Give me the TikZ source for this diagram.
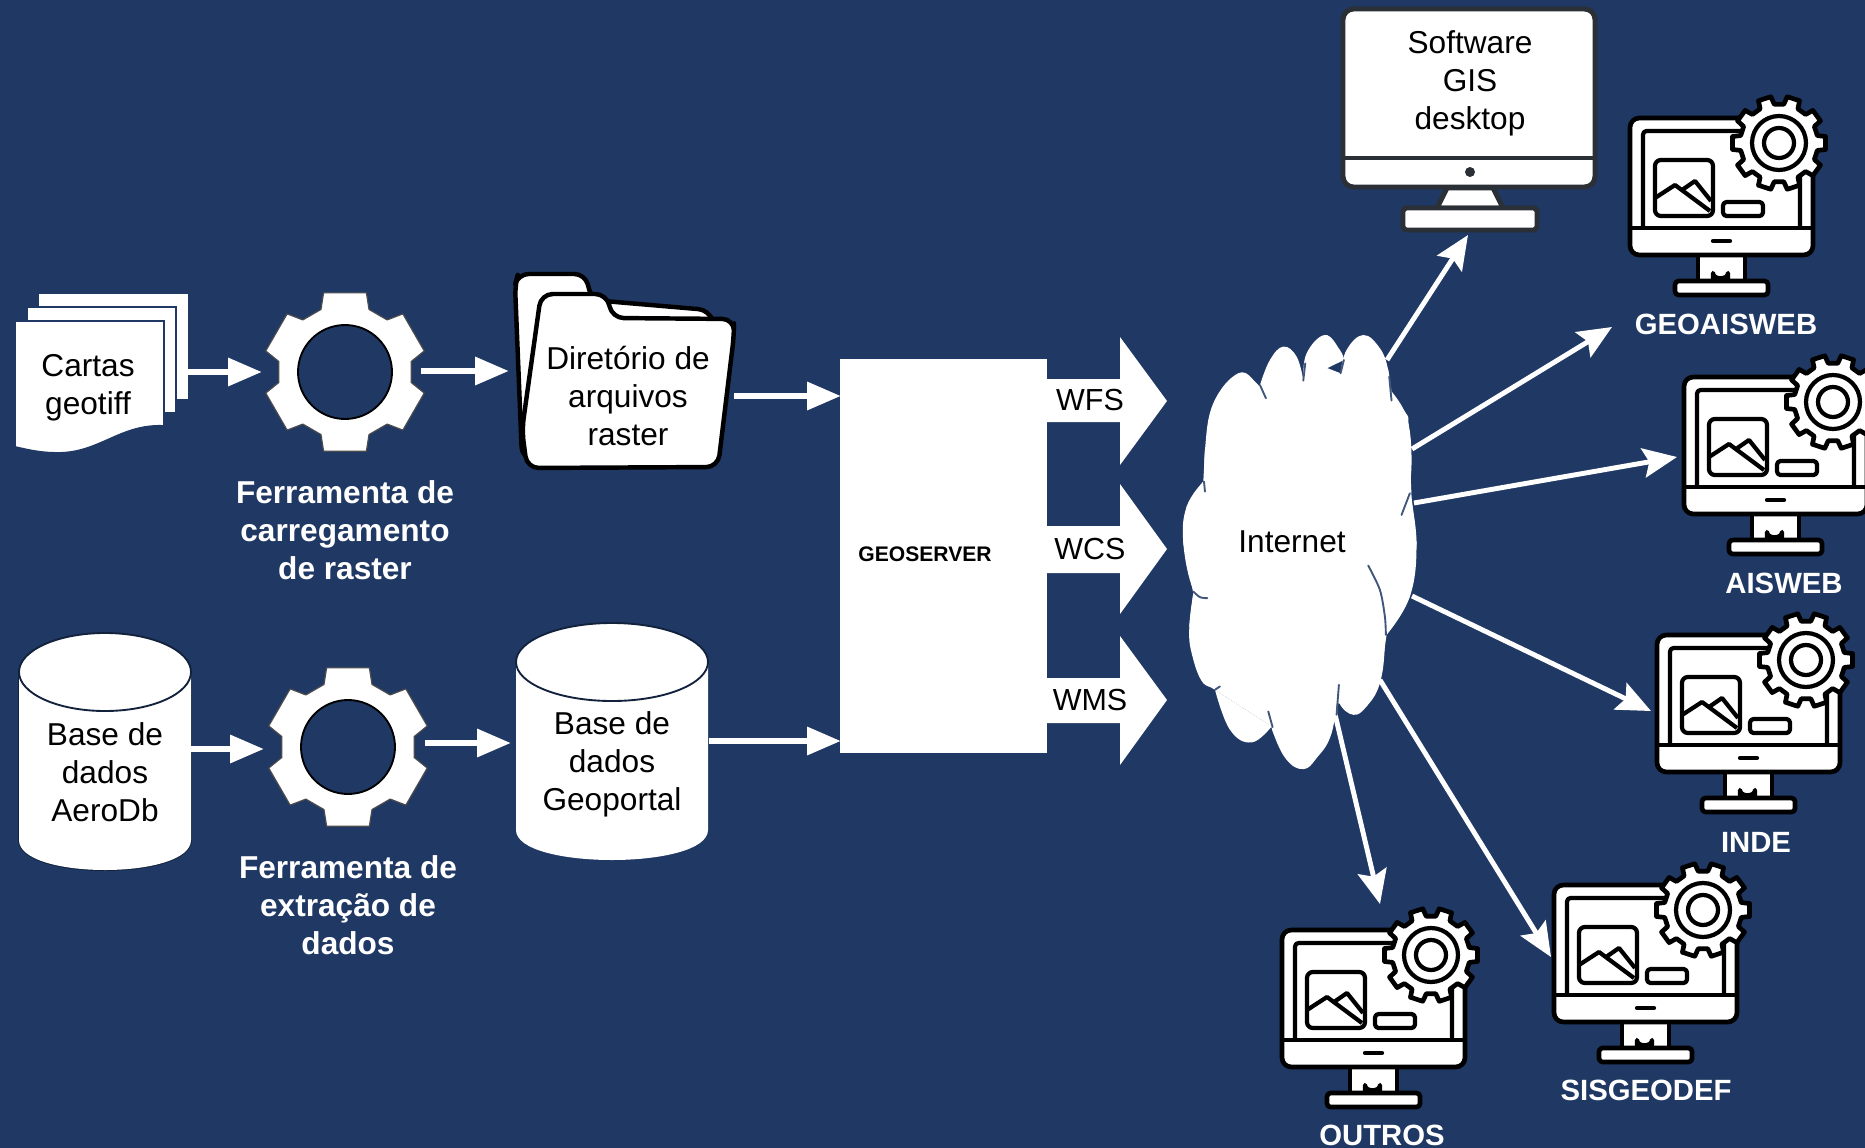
\documentclass[tikz,border=0pt]{standalone}
\usepackage{fontspec}
\setmainfont{Liberation Sans}
\usetikzlibrary{arrows.meta}
\definecolor{bg}{HTML}{203864}
\definecolor{mondark}{HTML}{2B2F36}
\newcommand{\gearshape}[8]{% options cx cy N R r wo wr, offset
  \begin{scope}[shift={(#2,#3)}]
  \path[#1] ({#8-#7}:#6)
    \foreach \i [evaluate=\i as \a using {#8+\i*360/#4}] in {0,...,\numexpr#4-1\relax} {
       -- ({\a-#7}:#6) -- ({\a-#7*0.72}:#5) -- ({\a+#7*0.72}:#5) -- ({\a+#7}:#6)
    } -- cycle;
  \end{scope}
}
\tikzset{
  txt/.style={align=center,text=black,inner sep=0pt,font=\fontsize{27}{32.4}\selectfont},
  lab/.style={align=center,text=white,inner sep=0pt,font=\fontsize{27}{32.4}\selectfont\bfseries},
  caplab/.style={align=center,text=white,inner sep=0pt,font=\fontsize{25}{30}\selectfont\bfseries},
  ptxt/.style={txt,font=\fontsize{26}{31}\selectfont},
  flow/.style={draw=white,line width=5.6pt,-{Triangle[length=29pt,width=23pt]}},
  net/.style={draw=white,line width=4.2pt,-{Stealth[length=29pt,width=25pt,inset=5pt]}},
  arc/.style={draw=bg!85!white,line width=1.6pt,line cap=round},
  mon/.style={draw=black,line width=4pt,fill=white,line join=round},
  monthin/.style={draw=black,line width=3.6pt,line join=round},
  deskmon/.style={draw=mondark,line width=4.2pt,fill=white,line join=round},
  cyl/.style={draw=bg!60!black,line width=1.6pt,fill=white},
  folder/.style={draw=black,line width=3.8pt,fill=white,line join=round},
  page/.style={draw=bg,line width=1.6pt,fill=white},
  blockar/.style={fill=white},
  monicon/.pic={
    \draw[mon] (68,137) rectangle (115,165);
    \draw[monthin,fill=bg!0] (83,164) -- (83,155) to[out=-90,in=-90,looseness=1.2] (98,155) -- (98,164);
    \draw[mon,rounded corners=3pt] (45,163) rectangle (138,177);
    \draw[mon,rounded corners=8pt] (0,0) rectangle (183,137);
    \draw[monthin] (0,110) -- (183,110);
    \draw[monthin,rounded corners=3pt] (13,110) -- (13,13) -- (170,13) -- (170,110);
    \draw[monthin,line cap=round] (83,123) -- (100,123);
    \draw[monthin,rounded corners=5pt] (25,42) rectangle (83,98);
    \draw[monthin] (25,80) -- (45,67) -- (80,93);
    \draw[monthin] (52,72) -- (65,63) -- (81,83);
    \draw[monthin,rounded corners=3pt] (93,84) rectangle (133,98);
    \gearshape{mon}{149}{25}{10}{47}{39}{11}{0}
    \draw[monthin] (149,25) circle (27);
    \draw[monthin] (149,25) circle (15);
  }
}
\begin{document}
\begin{tikzpicture}[x=0.03cm,y=-0.03cm]
\useasboundingbox (0,0) rectangle (1865,1148);
\clip (0,0) rectangle (1865,1148);
\fill[bg] (0,0) rectangle (1865,1148);

% documents
\fill[white] (39,294) rectangle (188,399);
\draw[page] (27,307) rectangle (176,413);
\draw[page] (15,321) -- (164,321) -- (164,426) .. controls (120,424) and (100,453) .. (58,453) .. controls (40,453) and (28,450) .. (15,447) -- cycle;
\node[txt] (cartas) at (88,388) {Cartas\\geotiff};
\coordinate (cartasE) at (187,372);

% gears
\gearshape{draw=black!70,line width=1pt,fill=white,line join=round}{345}{372}{6}{82}{67}{21}{30}
\fill[bg] (345,372) circle (47);
\draw[black,line width=1.6pt] (345,372) circle (47);
\coordinate (gearAW) at (262,372);
\coordinate (gearAE) at (421,371);
\gearshape{draw=black!70,line width=1pt,fill=white,line join=round}{348}{747}{6}{82}{67}{21}{30}
\fill[bg] (348,747) circle (47);
\draw[black,line width=1.6pt] (348,747) circle (47);
\coordinate (gearBW) at (264,749);
\coordinate (gearBE) at (425,743);
\node[lab] (ferrA) at (345,530) {Ferramenta de\\carregamento\\de raster};
\node[lab] (ferrB) at (348,905) {Ferramenta de\\extração de\\dados};

% folder
\draw[folder,rounded corners=9pt] (522,458) -- (515,285) -- (518,274) -- (585,274) -- (592,300) -- (709,310) -- (716,330) -- (700,440) -- (600,466) -- cycle;
\draw[folder,rounded corners=10pt] (541,294) -- (607,294) -- (612,318) -- (734,319) -- (734,335) -- (718,467) -- (527,468) -- (522,430) -- cycle;
\node[txt] (dir) at (628,396) {Diretório de\\arquivos\\raster};
\coordinate (dirW) at (509,371);
\coordinate (dirE) at (734,396);

% cylinders
\draw[cyl] (19,672) -- (19,840) .. controls (19,880) and (191,880) .. (191,840) -- (191,672);
\fill[white] (19,672) -- (19,840) .. controls (19,880) and (191,880) .. (191,840) -- (191,672) -- cycle;
\draw[cyl] (105,672) ellipse (86 and 39);
\node[txt] (aero) at (105,772) {Base de\\dados\\AeroDb};
\coordinate (aeroE) at (191,749);
\coordinate (gpW) at (511,743);
\fill[white] (516,662) -- (516,830) .. controls (516,870) and (708,870) .. (708,830) -- (708,662) -- cycle;
\draw[cyl] (612,662) ellipse (96 and 39);
\node[txt] (geop) at (612,764) {Base de\\dados\\Geoportal};
\coordinate (geopE) at (709,741);

% geoserver
\node[fill=white,minimum width=207*0.03cm,minimum height=394*0.03cm,inner sep=0pt] (geoserver) at (943.5,556) {};
\node[inner sep=0pt,font=\fontsize{18}{22}\selectfont\bfseries,text=black] (geolab) at (925,554) {GEOSERVER};
\coordinate (geoA) at (841,396);
\coordinate (geoB) at (841,741);

% flow arrows
\draw[flow] (cartasE) -- (gearAW);
\draw[flow] (gearAE) -- (dirW);
\draw[flow] (dirE) -- (geoA);
\draw[flow] (aeroE) -- (gearBW);
\draw[flow] (gearBE) -- (gpW);
\draw[flow] (geopE) -- (geoB);

% block arrows
\fill[blockar] (1047,379) -- (1120,379) -- (1120,337) -- (1167,401) -- (1120,465) -- (1120,422) -- (1047,422) -- cycle;
\fill[blockar] (1047,526) -- (1120,526) -- (1120,484) -- (1167,549) -- (1120,614) -- (1120,573) -- (1047,573) -- cycle;
\fill[blockar] (1047,678) -- (1120,678) -- (1120,636) -- (1167,700) -- (1120,765) -- (1120,723) -- (1047,723) -- cycle;
\node[ptxt] (wfs) at (1090,400) {WFS};
\node[ptxt] (wcs) at (1090,549) {WCS};
\node[ptxt] (wms) at (1090,700) {WMS};

% desktop monitor
\draw[deskmon] (1447,188) -- (1493,188) -- (1503,208) -- (1437,208) -- cycle;
\draw[deskmon,rounded corners=3pt] (1403,208) rectangle (1537,230);
\draw[deskmon,rounded corners=9pt] (1343,9) rectangle (1595,187);
\draw[mondark,line width=4.2pt] (1343,158) -- (1595,158);
\fill[mondark] (1470,172) circle (5);
\node[txt] (gis) at (1470,83) {Software\\GIS\\desktop};
\coordinate (gisS) at (1468,235);

% icons
\pic at (1630,118) {monicon};
\pic at (1684,377) {monicon};
\pic at (1657,635) {monicon};
\pic at (1554,885) {monicon};
\pic at (1282,930) {monicon};
\node[caplab] (l1) at (1726,324) {GEOAISWEB};
\node[caplab] (l2) at (1784,583) {AISWEB};
\node[caplab] (l3) at (1756,842) {INDE};
\node[caplab] (l4) at (1646,1090) {SISGEODEF};
\node[caplab] (l5) at (1382,1135) {OUTROS};
\coordinate (t1) at (1612,327);
\coordinate (t2) at (1677,457);
\coordinate (t3) at (1651,711);
\coordinate (t4) at (1551,957);
\coordinate (t5) at (1380,904);
\coordinate (c0) at (1387,360);
\coordinate (c1) at (1412,449);
\coordinate (c2) at (1414,503);
\coordinate (c3) at (1412,596);
\coordinate (c4) at (1380,680);
\coordinate (c5) at (1334,710);

% net arrows
\draw[net] (c0) -- (gisS);
\draw[net] (c1) -- (t1);
\draw[net] (c2) -- (t2);
\draw[net] (c3) -- (t3);
\draw[net] (c4) -- (t4);
\draw[net] (c5) -- (t5);

% cloud
\begin{scope}[shift={(1150,310)},x=0.01cm,y=-0.01cm]
\fill[white] (160,515) -- (165,420) -- (330,225) -- (350,200) -- (460,210) -- (470,150) -- (572,190) -- (590,140) -- (715,180) -- (725,245) -- (775,320) -- (785,560) -- (800,700) -- (780,860) -- (710,975) -- (690,1120) -- (650,1190) -- (560,1180) -- (545,1270) -- (370,1270) -- (365,1250) -- (195,1140) -- (160,1120) -- (118,950) -- (130,850) -- (100,700) -- (110,590) -- cycle;
\fill[white] plot[smooth,tension=.7] coordinates {(165,540) (165,420) (190,280) (265,190) (320,220) (348,265)} -- cycle;
\fill[white] plot[smooth,tension=.7] coordinates {(330,225) (360,150) (400,110) (440,140) (460,210)} -- cycle;
\fill[white] plot[smooth,tension=.7] coordinates {(460,210) (470,130) (525,75) (570,120) (582,150)} -- cycle;
\fill[white] plot[smooth,tension=.7] coordinates {(572,190) (590,120) (640,75) (690,115) (715,180) (725,270)} -- cycle;
\fill[white] plot[smooth,tension=.7] coordinates {(725,245) (770,320) (785,440) (775,560) (755,615)} -- cycle;
\fill[white] plot[smooth,tension=.7] coordinates {(780,550) (800,700) (780,860) (710,975)} -- cycle;
\fill[white] plot[smooth,tension=.7] coordinates {(655,765) (700,870) (705,1000) (690,1120) (650,1190) (610,1215) (568,1180) (567,1125)} -- cycle;
\fill[white] plot[smooth,tension=.7] coordinates {(567,1125) (545,1270) (500,1345) (460,1378) (410,1350) (370,1270) (355,1205)} -- cycle;
\fill[white] plot[smooth,tension=.7] coordinates {(365,1250) (305,1298) (240,1260) (195,1140)} -- cycle;
\fill[white] plot[smooth,tension=.7] coordinates {(210,1130) (160,1120) (125,1030) (118,950) (130,850)} -- cycle;
\fill[white] plot[smooth,tension=.7] coordinates {(172,865) (130,840) (100,700) (110,590) (160,515)} -- cycle;
\draw[arc] plot[smooth] coordinates {(165,545) (162,515)};
\draw[arc] plot[smooth] coordinates {(348,265) (330,225)};
\draw[arc] plot[smooth] coordinates {(460,212) (466,160)};
\draw[arc] plot[smooth] coordinates {(572,190) (582,150)};
\draw[arc] plot[smooth] coordinates {(725,272) (718,200)};
\draw[arc] plot[smooth] coordinates {(755,615) (780,550)};
\draw[arc] plot[smooth] coordinates {(655,767) (690,840) (705,920) (708,975)};
\draw[arc] plot[smooth] coordinates {(567,1125) (560,1215)};
\draw[arc] plot[smooth] coordinates {(355,1205) (368,1252)};
\draw[arc] plot[smooth] coordinates {(195,1140) (210,1130)};
\draw[arc] plot[smooth] coordinates {(130,845) (150,862) (172,865)};
\end{scope}
\node[inner sep=0pt,font=\fontsize{27}{32}\selectfont,text=black] (internet) at (1292,542) {Internet};
\end{tikzpicture}
\end{document}
